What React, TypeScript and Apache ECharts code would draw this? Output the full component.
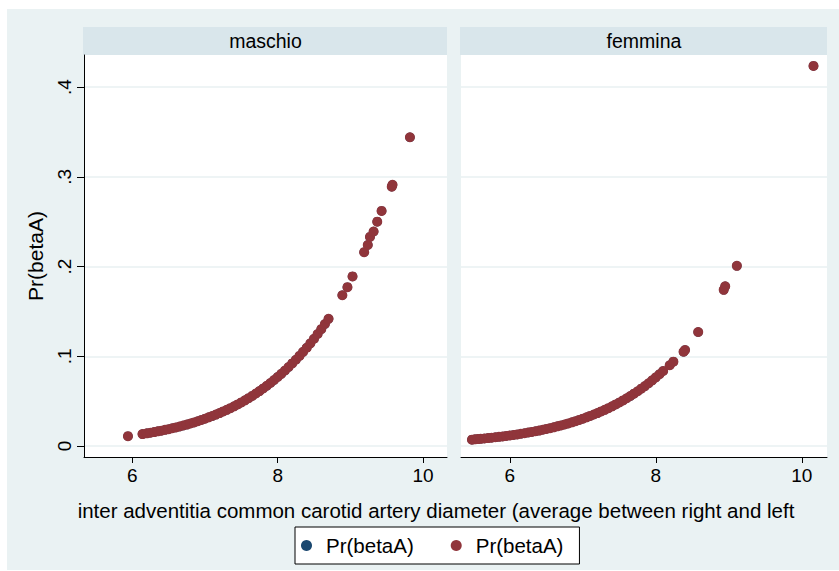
import React, { useEffect, useRef } from 'react';
import * as echarts from 'echarts';

const panelTitles = ['maschio', 'femmina'];
const xTicks = [6, 8, 10];
const yTicks = [0, 0.1, 0.2, 0.3, 0.4];
const legendLabel = 'Pr(betaA)';
const xTitle = 'inter adventitia common carotid artery diameter (average between right and left';
const yTitle = 'Pr(betaA)';

// maschio panel: [diameter, Pr(betaA)]
const maschio: [number, number][] = [
  [5.94, 0.011], [6.14, 0.0133], [6.2, 0.0141], [6.25, 0.0148], [6.3, 0.0155], [6.35, 0.0163],
  [6.4, 0.0171], [6.45, 0.018], [6.5, 0.0188], [6.55, 0.0198], [6.6, 0.0207], [6.65, 0.0217],
  [6.7, 0.0228], [6.75, 0.0239], [6.8, 0.0251], [6.85, 0.0263], [6.9, 0.0276], [6.95, 0.029],
  [7.0, 0.0304], [7.05, 0.0319], [7.1, 0.0334], [7.15, 0.035], [7.2, 0.0367], [7.25, 0.0385],
  [7.3, 0.0403], [7.35, 0.0422], [7.4, 0.0442], [7.45, 0.0463], [7.5, 0.0486], [7.55, 0.0509],
  [7.6, 0.0533], [7.65, 0.0558], [7.7, 0.0585], [7.75, 0.0612], [7.8, 0.0641], [7.85, 0.0671],
  [7.9, 0.0702], [7.95, 0.0735], [8.0, 0.0769], [8.05, 0.0804], [8.1, 0.0841], [8.15, 0.088],
  [8.2, 0.092], [8.25, 0.0961], [8.3, 0.1004], [8.35, 0.1049], [8.4, 0.1095], [8.45, 0.1144],
  [8.5, 0.1195], [8.55, 0.1248], [8.6, 0.1302], [8.65, 0.1359], [8.7, 0.1417],
  [8.89, 0.168], [8.96, 0.177], [9.03, 0.189], [9.19, 0.216], [9.24, 0.224], [9.27, 0.233],
  [9.32, 0.239], [9.37, 0.25], [9.43, 0.262], [9.57, 0.289], [9.58, 0.291], [9.82, 0.344],
];

// femmina panel: [diameter, Pr(betaA)]
const femmina: [number, number][] = [
  [5.48, 0.0071], [5.52, 0.0074], [5.56, 0.0077], [5.6, 0.008], [5.65, 0.0084], [5.7, 0.0088],
  [5.75, 0.0093], [5.8, 0.0097], [5.85, 0.0102], [5.9, 0.0107], [5.95, 0.0112], [6.0, 0.0118],
  [6.05, 0.0123], [6.1, 0.0129], [6.15, 0.0136], [6.2, 0.0142], [6.25, 0.015], [6.3, 0.0157],
  [6.35, 0.0164], [6.4, 0.0172], [6.45, 0.0181], [6.5, 0.019], [6.55, 0.0199], [6.6, 0.0208],
  [6.65, 0.0219], [6.7, 0.0229], [6.75, 0.024], [6.8, 0.0252], [6.85, 0.0264], [6.9, 0.0277],
  [6.95, 0.0291], [7.0, 0.0305], [7.05, 0.0319], [7.1, 0.0335], [7.15, 0.0351], [7.2, 0.0367],
  [7.25, 0.0385], [7.3, 0.0403], [7.35, 0.0422], [7.4, 0.0442], [7.45, 0.0463], [7.5, 0.0485],
  [7.55, 0.0508], [7.6, 0.0532], [7.65, 0.0557], [7.7, 0.0583], [7.75, 0.061], [7.8, 0.0639],
  [7.85, 0.0668], [7.9, 0.0699], [7.95, 0.0732], [8.0, 0.0765], [8.05, 0.08], [8.1, 0.0836],
  [8.19, 0.09], [8.24, 0.094], [8.38, 0.105], [8.4, 0.107], [8.58, 0.127], [8.93, 0.174],
  [8.95, 0.178], [9.11, 0.2008], [10.16, 0.4235],
];

const panelData = [maschio, femmina];

const FONT = '"Liberation Sans", Arial, Helvetica, sans-serif';
const BG = '#EAF2F3';
const HEADER = '#D9E6EB';
const NAVY = '#1A476F';
const MAROON = '#90353B';

const grids = [
  { left: 84, top: 55, width: 363, height: 402 },
  { left: 461, top: 55, width: 366, height: 402 },
];
const xRanges = [
  [5.335, 10.33],
  [5.33, 10.345],
];
const yRange = [-0.01226, 0.4357];

function fmtY(v: number) {
  if (Math.abs(v) < 1e-9) return '0';
  return String(Math.round(v * 10) / 10).replace(/^0/, '');
}

export default function App() {
  const ref = useRef<HTMLDivElement>(null);
  useEffect(() => {
    const chart = echarts.init(ref.current!, null, { renderer: 'svg' });
    const xAxis = grids.map((_, i) => ({
      type: 'value',
      gridIndex: i,
      min: xRanges[i][0],
      max: xRanges[i][1],
      axisLine: { show: true, onZero: false, lineStyle: { color: '#000', width: 1 } },
      axisTick: { show: true, customValues: xTicks, length: 6, lineStyle: { color: '#000', width: 1 } },
      axisLabel: { customValues: xTicks, fontSize: 19, color: '#000', margin: 9, fontFamily: FONT },
      splitLine: { show: false },
    }));
    const yAxis = grids.map((_, i) => ({
      type: 'value',
      gridIndex: i,
      min: yRange[0],
      max: yRange[1],
      name: i === 0 ? yTitle : '',
      nameLocation: 'middle',
      nameGap: 38,
      nameTextStyle: { fontSize: 21, color: '#000', fontFamily: FONT },
      axisLine: { show: i === 0, onZero: false, lineStyle: { color: '#000', width: 1 } },
      axisTick: { show: i === 0, customValues: yTicks, length: 7, lineStyle: { color: '#000', width: 1 } },
      axisLabel: {
        show: i === 0,
        customValues: yTicks,
        rotate: 90,
        fontSize: 19,
        color: '#000',
        margin: 10,
        fontFamily: FONT,
        formatter: (v: number) => fmtY(v),
      },
      splitLine: { show: true, lineStyle: { color: '#E8F0F2', width: 1.5 } },
    }));
    const series: any[] = [];
    panelData.forEach((d, i) => {
      series.push({
        type: 'scatter',
        name: 'navy',
        xAxisIndex: i,
        yAxisIndex: i,
        data: d,
        symbol: 'circle',
        symbolSize: 9.5,
        itemStyle: { color: NAVY, opacity: 1 },
        z: 2,
      });
      series.push({
        type: 'scatter',
        name: 'maroon',
        xAxisIndex: i,
        yAxisIndex: i,
        data: d,
        symbol: 'circle',
        symbolSize: 10,
        itemStyle: { color: MAROON, opacity: 1 },
        z: 3,
      });
    });
    const graphic: any[] = [
      { type: 'rect', z: -10, shape: { x: 7, y: 9, width: 832, height: 561 }, style: { fill: BG } },
    ];
    grids.forEach((g, i) => {
      graphic.push({
        type: 'rect',
        z: -5,
        shape: { x: g.left - 1, y: 27, width: g.width + 1, height: 28 },
        style: { fill: HEADER },
      });
      graphic.push({
        type: 'text',
        z: -4,
        x: g.left + g.width / 2,
        y: 41,
        style: {
          text: panelTitles[i],
          fontSize: 19.5,
          fontFamily: FONT,
          fill: '#000',
          align: 'center',
          verticalAlign: 'middle',
        },
      });
    });
    graphic.push({
      type: 'text',
      x: 436,
      y: 510,
      style: {
        text: xTitle,
        fontSize: 20.5,
        fontFamily: FONT,
        fill: '#000',
        align: 'center',
        verticalAlign: 'middle',
      },
    });
    chart.setOption({
      animation: false,
      textStyle: { fontFamily: FONT },
      grid: grids.map((g) => ({ ...g, show: true, backgroundColor: '#fff', borderWidth: 0 })),
      xAxis,
      yAxis,
      series,
      legend: {
        data: [
          { name: 'navy', itemStyle: { color: NAVY, opacity: 1 } },
          { name: 'maroon', itemStyle: { color: MAROON, opacity: 1 } },
        ],
        left: 295,
        top: 527,
        orient: 'horizontal',
        padding: [8, 16, 8, 6],
        itemGap: 37,
        itemWidth: 11,
        itemHeight: 11,
        icon: 'circle',
        backgroundColor: '#fff',
        borderColor: '#000',
        borderWidth: 1,
        borderRadius: 0,
        selectedMode: false,
        formatter: () => legendLabel,
        textStyle: { fontSize: 20.5, color: '#000', fontFamily: FONT, padding: [0, 0, 0, 9] },
      },
      graphic,
    });
    return () => chart.dispose();
  }, []);
  return <div ref={ref} style={{ position: 'absolute', left: 0, top: 0, width: 839, height: 571 }} />;
}
